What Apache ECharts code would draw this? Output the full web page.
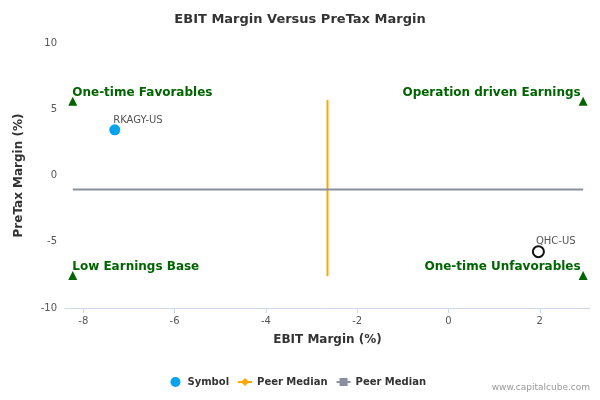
<!DOCTYPE html>
<html>
<head>
<meta charset="utf-8">
<title>EBIT Margin Versus PreTax Margin</title>
<script src="https://cdn.jsdelivr.net/npm/echarts@6/dist/echarts.min.js"></script>
</head>
<body style="margin:0">
<div id="main" style="width:600px;height:400px;"></div>
<script>
    // data
    var symbolNames = ['RKAGY-US'];
    var symbolPoints = [[-7.31, 3.45]];
    var otherNames = ['QHC-US'];
    var otherPoints = [[1.97, -5.75]];
    var orangeMedian = [[-2.65, 5.7], [-2.65, -7.6]];
    var grayMedian = [[-8.23, -1.05], [2.95, -1.05]];
    var cornerNames = ['One-time Favorables', 'Operation driven Earnings', 'Low Earnings Base', 'One-time Unfavorables'];
    var cornerPoints = [[-8.23, 5.6], [2.95, 5.6], [-8.23, -7.55], [2.95, -7.55]];
    var xTicks = [-8, -6, -4, -2, 0, 2];

    var myChart = echarts.init(document.getElementById('main'));

    var cornerData = cornerPoints.map(function (p, i) {
        var left = i % 2 === 0;
        return {
            value: p,
            label: {
                show: true,
                formatter: cornerNames[i],
                position: left ? [4, -10] : [2, -10],
                align: left ? 'left' : 'right'
            }
        };
    });

    var option = {
        textStyle: {fontFamily: 'DejaVu Sans'},
        title: {
            text: 'EBIT Margin Versus PreTax Margin',
            left: 'center', top: 8,
            textStyle: {fontSize: 13, fontWeight: 'bold', color: '#333', fontFamily: 'DejaVu Sans'}
        },
        grid: {left: 65, right: 10, top: 43, bottom: 92},
        legend: {
            bottom: 8,
            itemWidth: 14, itemHeight: 10,
            textStyle: {fontSize: 10, fontWeight: 'bold', color: '#333'},
            data: [
                {name: 'Symbol', icon: 'circle'},
                {name: 'Peer Median'},
                {name: 'Peer Median '}
            ]
        },
        graphic: [{
            type: 'text', right: 10, bottom: 8,
            style: {text: 'www.capitalcube.com', fontSize: 9, fill: '#999', fontFamily: 'DejaVu Sans'}
        }],
        xAxis: {
            type: 'value', min: -8.4, max: 3.1,
            name: 'EBIT Margin (%)', nameLocation: 'middle', nameGap: 26,
            nameTextStyle: {fontWeight: 'bold', fontSize: 12, color: '#333'},
            axisLine: {show: true, onZero: false, lineStyle: {color: '#ccd6eb'}},
            axisTick: {show: true, customValues: xTicks, lineStyle: {color: '#ccd6eb'}},
            axisLabel: {customValues: xTicks, color: '#555', fontSize: 10},
            splitLine: {show: false}
        },
        yAxis: {
            type: 'value', min: -10, max: 10, interval: 5,
            name: 'PreTax Margin (%)', nameLocation: 'middle', nameGap: 40, nameRotate: 90,
            nameTextStyle: {fontWeight: 'bold', fontSize: 12, color: '#333'},
            axisLine: {show: false},
            axisTick: {show: false},
            axisLabel: {color: '#555', fontSize: 10},
            splitLine: {show: false}
        },
        series: [
            {
                name: 'corners', type: 'scatter', symbol: 'triangle', symbolSize: 9,
                itemStyle: {color: '#006400', opacity: 1},
                label: {color: '#006400', fontWeight: 'bold', fontSize: 12},
                data: cornerData, z: 3
            },
            {
                name: 'Symbol', type: 'scatter', symbolSize: 11,
                itemStyle: {color: '#00a3f0', opacity: 1},
                label: {show: true, position: [4, -9], color: '#555', fontSize: 10,
                    formatter: function (p) { return symbolNames[p.dataIndex]; }},
                data: symbolPoints
            },
            {
                name: 'others', type: 'scatter', symbolSize: 11,
                itemStyle: {color: '#fff', borderColor: '#111', borderWidth: 2, opacity: 1},
                label: {show: true, position: [4, -9], color: '#555', fontSize: 10,
                    formatter: function (p) { return otherNames[p.dataIndex]; }},
                data: otherPoints
            },
            {
                name: 'Peer Median', type: 'line', symbol: 'diamond', showSymbol: false,
                lineStyle: {color: '#ffa500', width: 2}, itemStyle: {color: '#ffa500'},
                data: orangeMedian
            },
            {
                name: 'Peer Median ', type: 'line', symbol: 'rect', showSymbol: false,
                lineStyle: {color: '#8a8fa0', width: 2}, itemStyle: {color: '#8a8fa0'},
                data: grayMedian
            }
        ]
    };
    myChart.setOption(option);
</script>
</body>
</html>
